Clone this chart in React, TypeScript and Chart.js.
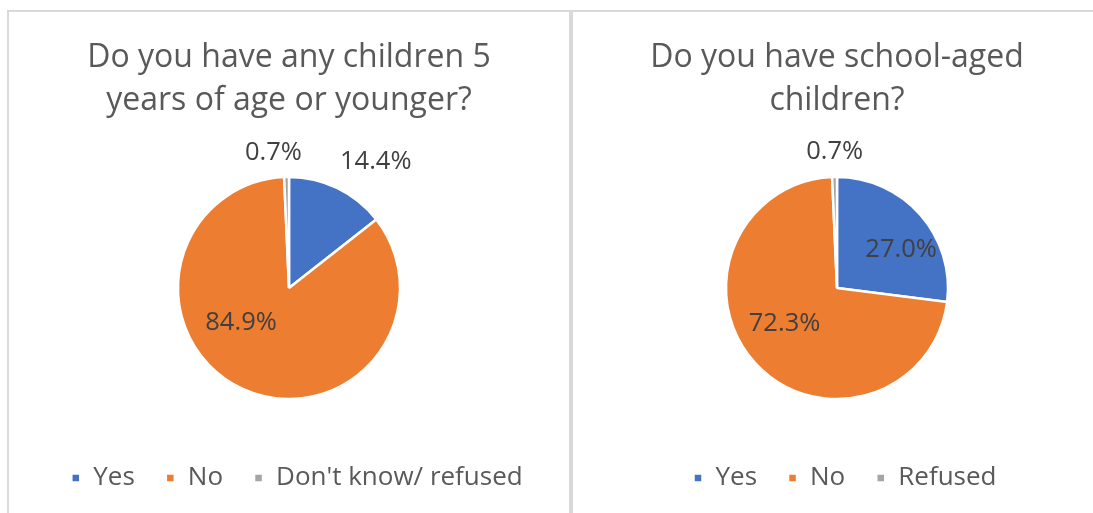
import React, { useEffect, useRef } from "react";
import { Chart, registerables } from "chart.js";

Chart.register(...registerables);

// ---- data ----
const leftTitle = ["Do you have any children 5", "years of age or younger?"];
const leftCategories = ["Yes", "No", "Don't know/ refused"];
const leftValues = [14.4, 84.9, 0.7];

const rightTitle = ["Do you have school-aged", "children?"];
const rightCategories = ["Yes", "No", "Refused"];
const rightValues = [27.0, 72.3, 0.7];

// ---- style ----
const sliceColors = ["#4472C4", "#ED7D31", "#A5A5A5"];
const FONT = "'Open Sans', Lato, sans-serif";
const TEXT = "#595959";
const LABEL = "#404040";

// label placement (degrees, fraction of radius)
const leftLabelAngles = [-55.5, 144, -96.6];
const leftLabelDist = [1.38, 0.534, 1.227];
const rightLabelAngles = [-30.9, 146, -91];
const rightLabelDist = [0.673, 0.57, 1.227];

const LEGEND_SHIFT = 8;

const labelPlugin = {
  id: "sliceLabels",
  afterLayout(chart: any) {
    if (chart.legend) {
      chart.legend.left += LEGEND_SHIFT;
      chart.legend.right += LEGEND_SHIFT;
    }
  },
  afterDatasetsDraw(chart: any, _args: any, opts: any) {
    const { ctx } = chart;
    const meta = chart.getDatasetMeta(0);
    const values = chart.data.datasets[0].data as number[];
    ctx.save();
    ctx.font = `25.5px ${FONT}`;
    ctx.fillStyle = LABEL;
    ctx.textAlign = "center";
    ctx.textBaseline = "middle";
    meta.data.forEach((arc: any, i: number) => {
      const { x, y, outerRadius } = arc.getProps(["x", "y", "outerRadius"], true);
      const a = (opts.angles[i] * Math.PI) / 180;
      const d = opts.dist[i] * outerRadius;
      ctx.fillText(values[i].toFixed(1) + "%", x + Math.cos(a) * d, y + Math.sin(a) * d);
    });
    ctx.restore();
  },
};

function PieBox(props: {
  title: string[];
  categories: string[];
  values: number[];
  angles: number[];
  dist: number[];
  width: number;
}) {
  const ref = useRef<HTMLCanvasElement | null>(null);
  useEffect(() => {
    if (!ref.current) return;
    const chart = new Chart(ref.current, {
      type: "pie",
      data: {
        labels: props.categories,
        datasets: [
          {
            data: props.values,
            backgroundColor: sliceColors,
            borderColor: "#ffffff",
            borderWidth: 2.5,
            radius: 111,
          } as any,
        ],
      },
      options: {
        responsive: false,
        animation: false,
        layout: { padding: 0 },
        plugins: {
          title: {
            display: true,
            text: props.title,
            color: TEXT,
            font: { family: FONT, size: 32, weight: "normal", lineHeight: 1.344 },
            padding: { top: 24.5, bottom: 19.5 },
          },
          legend: {
            display: true,
            position: "bottom",
            labels: {
              color: TEXT,
              font: { family: FONT, size: 26 },
              boxWidth: 9,
              boxHeight: 9,
              padding: 31,
            },
          },
          tooltip: { enabled: false },
          sliceLabels: { angles: props.angles, dist: props.dist },
        } as any,
      },
      plugins: [labelPlugin],
    });
    return () => chart.destroy();
  }, []);
  return <canvas ref={ref} width={props.width} height={489} style={{ display: "block" }} />;
}

export default function App() {
  return (
    <div
      style={{
        position: "fixed",
        left: 0,
        top: 0,
        width: 1093,
        height: 513,
        background: "#fff",
        overflow: "hidden",
      }}
    >
      <div
        style={{
          position: "absolute",
          left: 7,
          top: 10,
          width: 564,
          height: 520,
          border: "2px solid #d9d9d9",
          boxSizing: "border-box",
        }}
      >
        <PieBox
          title={leftTitle}
          categories={leftCategories}
          values={leftValues}
          angles={leftLabelAngles}
          dist={leftLabelDist}
          width={560}
        />
      </div>
      <div
        style={{
          position: "absolute",
          left: 571,
          top: 10,
          width: 530,
          height: 520,
          borderTop: "2px solid #d9d9d9",
          borderLeft: "2px solid #d9d9d9",
          boxSizing: "border-box",
        }}
      >
        <PieBox
          title={rightTitle}
          categories={rightCategories}
          values={rightValues}
          angles={rightLabelAngles}
          dist={rightLabelDist}
          width={528}
        />
      </div>
    </div>
  );
}
